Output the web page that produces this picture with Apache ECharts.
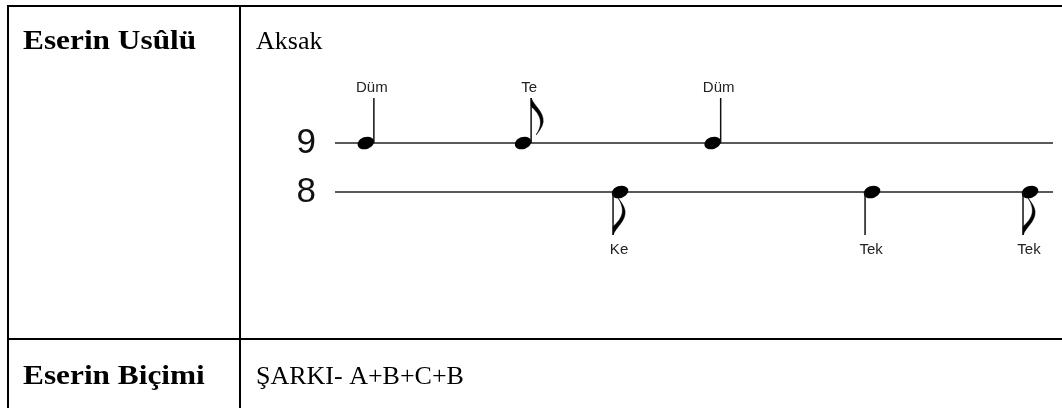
<!DOCTYPE html>
<html>
<head>
<meta charset="utf-8">
<script src="https://cdn.jsdelivr.net/npm/echarts@6/dist/echarts.min.js"></script>
<style>
  html, body { margin: 0; padding: 0; background: #fff; }
  #main { width: 1062px; height: 408px; }
</style>
</head>
<body>
<div id="main"></div>
<script>
// usul notes, position along the staff (0..100)
const positions = [4.3, 26.2, 39.7, 52.6, 74.8, 96.8];
const staffRow = [1, 1, 0, 1, 0, 0];          // 1 = upper line (9), 0 = lower line (8)
const strokes = ['Düm', 'Te', 'Ke', 'Düm', 'Tek', 'Tek'];
const hasFlag = [0, 1, 1, 0, 0, 1];           // eighth notes get a flag
const staffLabels = { 0: '8', 1: '9' };

const rowTitles = ['Eserin Usûlü', 'Eserin Biçimi'];
const rowValues = ['Aksak', 'ŞARKI- A+B+C+B'];

const noteData = positions.map((p, i) => [p, staffRow[i], strokes[i], hasFlag[i]]);

const chart = echarts.init(document.getElementById('main'));

// flag path, s = 1 for stem up (flag hangs down), -1 for stem down
function flagPath(sx, tip, s) {
  const p = (dx, dy) => (sx + dx) + ' ' + (tip + s * dy);
  return 'M' + p(0, 0) +
    ' C' + p(3, 8) + ' ' + p(13, 14) + ' ' + p(12, 24) +
    ' C' + p(11, 30) + ' ' + p(7, 34) + ' ' + p(5, 37) +
    ' C' + p(9, 31) + ' ' + p(10, 26) + ' ' + p(9, 21) +
    ' C' + p(7, 14) + ' ' + p(2, 11) + ' ' + p(0, 8) + ' Z';
}

function renderNote(params, api) {
  const pt = api.coord([api.value(0), api.value(1)]);
  const up = api.value(1) === 1;
  const label = strokes[params.dataIndex];
  const flag = hasFlag[params.dataIndex];
  const cx = pt[0], cy = pt[1];
  const sx = up ? cx + 8 : cx - 7;
  const tip = up ? cy - 45 : cy + 43;
  const children = [
    {
      type: 'ellipse',
      shape: { cx: 0, cy: 0, rx: 8.5, ry: 6 },
      x: cx, y: cy, rotation: 0.35,
      style: { fill: '#000' }
    },
    {
      type: 'line',
      shape: { x1: sx, y1: cy, x2: sx, y2: tip },
      style: { stroke: '#111', lineWidth: 1.5 }
    },
    {
      type: 'text',
      x: up ? cx + 6 : cx - 1,
      y: up ? tip - 10 : tip + 15,
      style: {
        text: label, fill: '#222',
        font: '15px "Liberation Sans", Arial, sans-serif',
        align: 'center', verticalAlign: 'middle'
      }
    }
  ];
  if (flag) {
    children.push({
      type: 'path',
      shape: { pathData: flagPath(sx, tip, up ? 1 : -1) },
      style: { fill: '#000', stroke: '#000', lineWidth: 0.6 }
    });
  }
  return { type: 'group', children: children };
}

const tableFont = '"Liberation Serif", "Times New Roman", serif';

chart.setOption({
  animation: false,
  backgroundColor: '#fff',
  grid: { left: 335, right: 9, top: 94, bottom: 167 },
  xAxis: {
    type: 'value', min: 0, max: 100, show: false
  },
  yAxis: {
    type: 'value', min: -1, max: 2, interval: 1,
    axisLine: { show: false },
    axisTick: { show: false },
    splitLine: { show: false },
    axisLabel: {
      margin: 19,
      color: '#111',
      fontSize: 35,
      fontFamily: '"Liberation Sans", Arial, sans-serif',
      formatter: v => staffLabels[v] || ''
    }
  },
  series: [
    {
      type: 'line', data: [[0, 1], [100, 1]], symbol: 'none', silent: true,
      lineStyle: { color: '#222', width: 1.6 }
    },
    {
      type: 'line', data: [[0, 0], [100, 0]], symbol: 'none', silent: true,
      lineStyle: { color: '#222', width: 1.6 }
    },
    {
      type: 'custom', renderItem: renderNote, data: noteData, z: 5
    }
  ],
  graphic: [
    // table borders
    { type: 'line', shape: { x1: 7, y1: 6, x2: 1062, y2: 6 }, style: { stroke: '#000', lineWidth: 2 } },
    { type: 'line', shape: { x1: 8, y1: 5, x2: 8, y2: 408 }, style: { stroke: '#000', lineWidth: 2 } },
    { type: 'line', shape: { x1: 240, y1: 5, x2: 240, y2: 408 }, style: { stroke: '#000', lineWidth: 2 } },
    { type: 'line', shape: { x1: 7, y1: 339, x2: 1062, y2: 339 }, style: { stroke: '#000', lineWidth: 2 } },
    // table text
    { type: 'text', x: 23, y: 42, scaleX: 1.16, style: { text: rowTitles[0], fill: '#000', font: 'bold 27px ' + tableFont, verticalAlign: 'middle' } },
    { type: 'text', x: 256, y: 42, style: { text: rowValues[0], fill: '#000', font: '26px ' + tableFont, verticalAlign: 'middle' } },
    { type: 'text', x: 23, y: 377, scaleX: 1.16, style: { text: rowTitles[1], fill: '#000', font: 'bold 27px ' + tableFont, verticalAlign: 'middle' } },
    { type: 'text', x: 256, y: 377, style: { text: rowValues[1], fill: '#000', font: '26px ' + tableFont, verticalAlign: 'middle' } }
  ]
});
</script>
</body>
</html>
